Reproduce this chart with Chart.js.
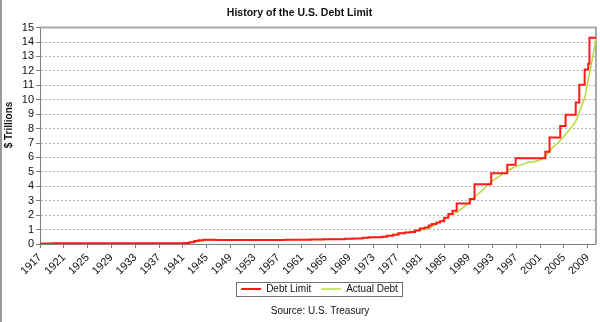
<!DOCTYPE html>
<html>
<head>
<meta charset="utf-8">
<script src="https://cdn.jsdelivr.net/npm/chart.js@4.4.1/dist/chart.umd.min.js"></script>
<style>
  html, body { margin: 0; padding: 0; background: #fff; }
  #wrap { width: 600px; height: 322px; }
</style>
</head>
<body>
<div id="wrap"><canvas id="debtChart" width="600" height="322"></canvas></div>
<script>
// Debt limit: year of change -> new limit ($ trillions)
const limitYears = [1917, 1919, 1940.5, 1941.2, 1942.1, 1942.9, 1943.6, 1944.4, 1946.5, 1954.6,
  1956.5, 1958.1, 1959.5, 1961.5, 1962.4, 1963.5, 1964.5, 1965.5, 1967.2, 1968.2,
  1969.5, 1971.2, 1972.2, 1973.5, 1974.5, 1975.3, 1976.3, 1977.2, 1978.3, 1979.2,
  1980.0, 1980.8, 1981.6, 1982.3, 1982.8, 1983.6, 1984.2, 1984.9, 1985.6, 1986.3,
  1987.0, 1989.2, 1990.0, 1992.8, 1995.5, 1996.9, 2001.9, 2002.6, 2004.4, 2005.3,
  2007.0, 2007.6, 2008.5, 2009.1, 2009.3, 2010.4];
const limitValues = [0.04, 0.045, 0.049, 0.065, 0.125, 0.21, 0.26, 0.3, 0.275, 0.281,
  0.278, 0.288, 0.295, 0.298, 0.308, 0.309, 0.324, 0.328, 0.336, 0.358,
  0.377, 0.43, 0.465, 0.475, 0.495, 0.577, 0.636, 0.752, 0.798, 0.83,
  0.935, 1.079, 1.14, 1.29, 1.39, 1.49, 1.573, 1.823, 2.078, 2.3,
  2.8, 3.123, 4.145, 4.9, 5.5, 5.95, 6.4, 7.384, 8.184, 8.965,
  9.815, 11.04, 12.104, 12.5, 14.294, 14.294];

// Actual debt ($ trillions)
const debtYears = [1917, 1918, 1919, 1920, 1925, 1930, 1933, 1935, 1937, 1940,
  1941, 1942, 1943, 1944, 1945, 1946, 1948, 1950, 1953, 1955,
  1958, 1960, 1963, 1965, 1968, 1970, 1972, 1974, 1975, 1976,
  1977, 1978, 1979, 1980, 1981, 1982, 1983, 1984, 1985, 1986,
  1987, 1988, 1989, 1990, 1991, 1992, 1993, 1994, 1995, 1996,
  1997, 1998, 1999, 2000, 2001, 2002, 2002.5, 2003, 2004, 2005,
  2006, 2007, 2007.5, 2008, 2008.5, 2009, 2009.5, 2010, 2010.4];
const debtValues = [0.006, 0.012, 0.025, 0.026, 0.021, 0.016, 0.022, 0.029, 0.036, 0.043,
  0.049, 0.072, 0.137, 0.201, 0.259, 0.269, 0.252, 0.257, 0.266, 0.274,
  0.276, 0.286, 0.306, 0.317, 0.348, 0.371, 0.427, 0.475, 0.533, 0.62,
  0.699, 0.772, 0.827, 0.908, 0.97, 1.02, 1.22, 1.5, 1.75, 2.0,
  2.2, 2.5, 2.85, 3.25, 3.6, 4.0, 4.38, 4.65, 4.92, 5.18,
  5.38, 5.52, 5.66, 5.7, 5.82, 6.15, 6.35, 6.65, 7.0, 7.45,
  7.95, 8.5, 9.0, 9.6, 10.1, 11.2, 12.2, 13.3, 14.25];

const xTickYears = [1917, 1921, 1925, 1929, 1933, 1937, 1941, 1945, 1949, 1953, 1957, 1961,
  1965, 1969, 1973, 1977, 1981, 1985, 1989, 1993, 1997, 2001, 2005, 2009];
const yTickValues = [0, 1, 2, 3, 4, 5, 6, 7, 8, 9, 10, 11, 12, 13, 14, 15];

const FONT = "'Liberation Sans', Arial, sans-serif";
const LEGEND_SHIFT = 20;   // legend and source sit right of centre in the original

// frame lines, y axis title, legend box, source line
const decorations = {
  id: 'decorations',
  afterUpdate(chart) {
    const lg = chart.legend;
    lg.left += LEGEND_SHIFT;
    lg.right += LEGEND_SHIFT;
    lg.legendHitBoxes.forEach(b => { b.left += LEGEND_SHIFT; });
  },
  beforeDatasetsDraw(chart) {
    const { ctx, chartArea: a } = chart;
    ctx.save();
    ctx.strokeStyle = '#a8a8a8';
    ctx.lineWidth = 2;
    ctx.beginPath();
    ctx.moveTo(a.left, a.top);
    ctx.lineTo(a.right, a.top);
    ctx.lineTo(a.right, a.bottom);
    ctx.stroke();
    ctx.restore();
  },
  afterDraw(chart) {
    const { ctx } = chart;
    ctx.save();
    // outer border on the left
    ctx.fillStyle = '#9a9a9a';
    ctx.fillRect(0, 0, 2, chart.height);

    // source line
    ctx.font = '10px ' + FONT;
    ctx.fillStyle = '#111';
    ctx.textAlign = 'center';
    ctx.textBaseline = 'middle';
    ctx.fillText('Source: U.S. Treasury', 300 + LEGEND_SHIFT, 311);

    // y axis title
    ctx.translate(9, 125);
    ctx.rotate(-Math.PI / 2);
    ctx.font = 'bold 10px ' + FONT;
    ctx.fillText('$ Trillions', 0, 0);
    ctx.restore();

    // border round the legend
    const boxes = chart.legend.legendHitBoxes;
    if (boxes && boxes.length) {
      const left = Math.min(...boxes.map(b => b.left));
      const right = Math.max(...boxes.map(b => b.left + b.width));
      const top = Math.min(...boxes.map(b => b.top));
      const bottom = Math.max(...boxes.map(b => b.top + b.height));
      ctx.save();
      ctx.strokeStyle = '#707070';
      ctx.lineWidth = 1;
      ctx.strokeRect(Math.round(left - 5) + 0.5, Math.round(top - 2) + 0.5,
        Math.round(right - left + 9), Math.round(bottom - top + 4));
      ctx.restore();
    }
  }
};

new Chart(document.getElementById('debtChart'), {
  type: 'line',
  data: {
    datasets: [
      {
        label: 'Debt Limit',
        data: limitYears.map((x, i) => ({ x, y: limitValues[i] })),
        borderColor: '#ff1a1a',
        backgroundColor: '#ff1a1a',
        borderWidth: 2,
        stepped: 'before',
        pointRadius: 0
      },
      {
        label: 'Actual Debt',
        data: debtYears.map((x, i) => ({ x, y: debtValues[i] })),
        borderColor: '#b2dc3a',
        backgroundColor: '#b2dc3a',
        borderWidth: 1.5,
        tension: 0,
        pointRadius: 0
      }
    ]
  },
  options: {
    responsive: false,
    animation: false,
    devicePixelRatio: 1,
    layout: { padding: { left: 2, right: 3, top: 4, bottom: 18 } },
    plugins: {
      title: {
        display: true,
        text: 'History of the U.S. Debt Limit',
        color: '#111',
        font: { family: FONT, size: 10.5, weight: 'bold' },
        padding: { top: 3, bottom: 8 }
      },
      legend: {
        position: 'bottom',
        labels: {
          usePointStyle: true,
          pointStyle: 'line',
          pointStyleWidth: 20,
          color: '#111',
          font: { family: FONT, size: 10 },
          padding: 10
        }
      },
      tooltip: { enabled: false }
    },
    scales: {
      x: {
        type: 'linear',
        min: 1917,
        max: 2010.4,
        afterBuildTicks: scale => { scale.ticks = xTickYears.map(v => ({ value: v })); },
        afterFit: scale => { scale.height = 30; },
        ticks: {
          autoSkip: false,
          maxRotation: 45,
          minRotation: 45,
          padding: 3,
          color: '#111',
          font: { family: FONT, size: 11 },
          callback: v => String(v)
        },
        grid: { drawOnChartArea: false, drawTicks: true, tickLength: 4, tickColor: '#808080' },
        border: { color: '#808080', width: 1 }
      },
      y: {
        min: 0,
        max: 15,
        afterBuildTicks: scale => { scale.ticks = yTickValues.map(v => ({ value: v })); },
        afterFit: scale => { scale.width = 38; },
        ticks: {
          autoSkip: false,
          padding: 2,
          color: '#111',
          font: { family: FONT, size: 11 }
        },
        grid: { color: '#b4b4b4', lineWidth: 1, tickLength: 4, tickColor: '#808080' },
        border: { color: '#808080', width: 1, dash: [2, 2] }
      }
    }
  },
  plugins: [decorations]
});
</script>
</body>
</html>
